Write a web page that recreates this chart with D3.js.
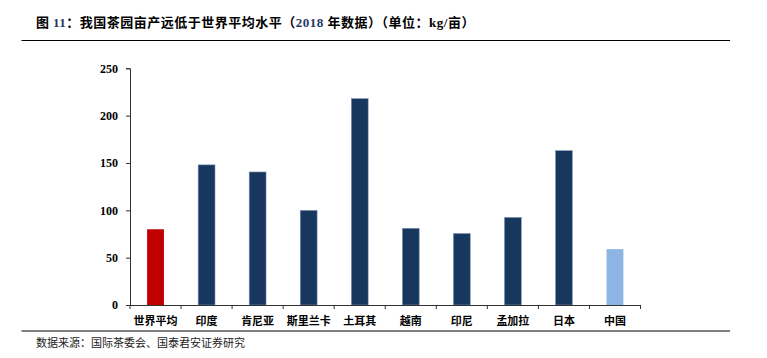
<!DOCTYPE html>
<html><head><meta charset="utf-8">
<script src="https://cdn.jsdelivr.net/npm/d3@7"></script>
<style>body{margin:0;background:#fff}</style>
</head><body>
<svg id="c" width="767" height="358"></svg>
<script>
const categories = ["世界平均","印度","肯尼亚","斯里兰卡","土耳其","越南","印尼","孟加拉","日本","中国"];
const values = [80, 148, 140.5, 100, 218, 81, 75.5, 92.5, 163, 59];
const colors = ["#C00000","#17375E","#17375E","#17375E","#17375E","#17375E","#17375E","#17375E","#17375E","#8EB4E3"];
const yTicks = [0, 50, 100, 150, 200, 250];

const svg = d3.select("#c");
const x = d3.scaleBand().domain(categories).range([130, 640.5]).paddingInner(0.67).paddingOuter(0.335);
const y = d3.scaleLinear().domain([0, 250]).range([305, 68.3]);

// title
const t = svg.append("text").attr("x", 36).attr("y", 27).attr("letter-spacing", 0.5)
  .attr("font-family", "'Noto Sans CJK SC'").attr("font-weight", "bold").attr("font-size", 13).attr("fill", "#000");
t.append("tspan").text("图 ");
t.append("tspan").attr("font-family", "'Liberation Serif'").attr("fill", "#1F3864").text("11");
t.append("tspan").text("：我国茶园亩产远低于世界平均水平（");
t.append("tspan").attr("font-family", "'Liberation Serif'").attr("fill", "#1F3864").text("2018 ");
t.append("tspan").text("年数据）（单位：");
t.append("tspan").attr("font-family", "'Liberation Serif'").text("kg/");
t.append("tspan").text("亩）");

svg.append("line").attr("x1", 21.5).attr("x2", 730).attr("y1", 40.5).attr("y2", 40.5).attr("stroke", "#000").attr("stroke-width", 1.2);
svg.append("line").attr("x1", 21.5).attr("x2", 730).attr("y1", 331).attr("y2", 331).attr("stroke", "#000").attr("stroke-width", 1);

svg.append("text").attr("x", 36).attr("y", 347).attr("font-family", "'Noto Sans CJK SC'")
  .attr("font-size", 11).attr("fill", "#222").text("数据来源：国际茶委会、国泰君安证券研究");

// bars
svg.append("g").selectAll("rect").data(values).join("rect")
  .attr("x", (d, i) => x(categories[i]))
  .attr("width", x.bandwidth())
  .attr("y", d => y(d))
  .attr("height", d => y(0) - y(d))
  .attr("fill", (d, i) => colors[i])
  .attr("stroke", (d, i) => i === 0 || i === 9 ? "none" : "#8096B4")
  .attr("stroke-width", 0.6);

// y axis
const ya = svg.append("g").attr("transform", "translate(130,0)")
  .call(d3.axisLeft(y).tickValues(yTicks).tickSize(4).tickPadding(8));
ya.select(".domain").attr("stroke", "#333");
ya.selectAll(".tick line").attr("stroke", "#333");
ya.selectAll("text").attr("font-family", "'Liberation Serif'").attr("font-weight", "bold").attr("font-size", 12).attr("fill", "#000");

// x axis
const xa = svg.append("g").attr("transform", "translate(0,305)");
xa.append("line").attr("x1", 130).attr("x2", 640.5).attr("y1", 0.5).attr("y2", 0.5).attr("stroke", "#333");
const bounds = d3.range(categories.length + 1).map(i => x.range()[0] + i * x.step());
xa.selectAll("line.tk").data(bounds).join("line").attr("class", "tk")
  .attr("x1", d => d).attr("x2", d => d).attr("y1", 0).attr("y2", 4).attr("stroke", "#333");
xa.selectAll("text").data(categories).join("text")
  .attr("x", d => x(d) + x.bandwidth() / 2).attr("y", 20)
  .attr("text-anchor", "middle").attr("font-family", "'Noto Sans CJK SC'").attr("font-weight", "bold")
  .attr("font-size", 11).attr("fill", "#000").text(d => d);
</script>
</body></html>
